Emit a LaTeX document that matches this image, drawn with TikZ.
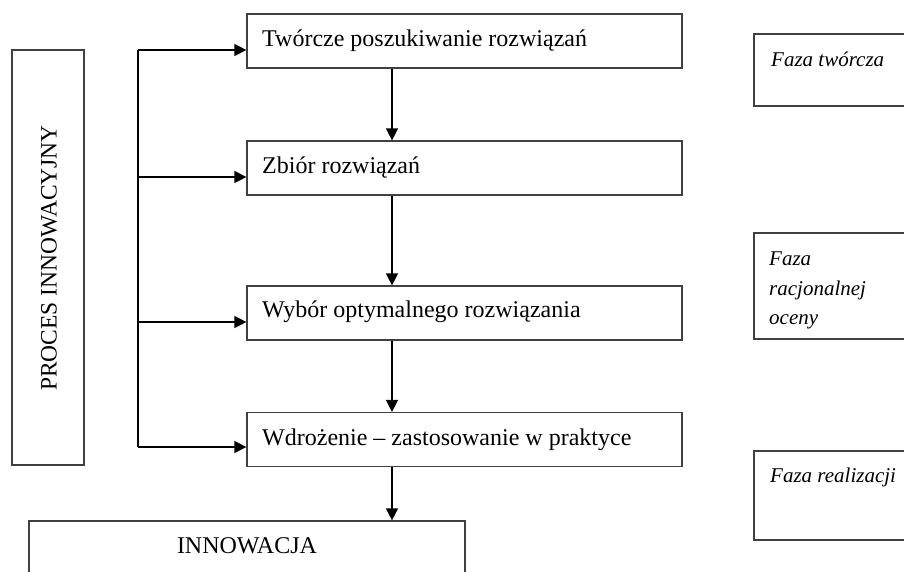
\documentclass[tikz,border=0pt]{standalone}
\usepackage{fontspec}
\setmainfont{Liberation Serif}
\usetikzlibrary{arrows.meta}
\begin{document}
\begin{tikzpicture}[x=1pt,y=-1pt,
  box/.style={draw=black!75, line width=1.2pt, inner sep=0pt},
  arr/.style={-{Triangle[length=12pt,width=12pt]}, line width=1.3pt},
  txt/.style={font=\fontsize{24}{28}\selectfont, inner sep=0pt},
  itxt/.style={font=\fontsize{21}{26}\selectfont\itshape, inner sep=0pt, anchor=base west}]
\useasboundingbox (0,0) rectangle (904,571);
\clip (0,0) rectangle (904,571);
\fill[white] (0,0) rectangle (904,571);
% left box
\node[box, minimum width=72pt, minimum height=415pt] (proc) at (48,257.5) {};
\node[txt, rotate=90, font=\fontsize{23.5}{28}\selectfont] (proctxt) at (49,258) {PROCES INNOWACYJNY};
% main boxes
\node[box, minimum width=435pt, minimum height=54pt] (b1) at (464.5,41) {};
\node[box, minimum width=435pt, minimum height=54pt] (b2) at (464.5,168) {};
\node[box, minimum width=435pt, minimum height=54pt] (b3) at (464.5,313) {};
\node[box, minimum width=435pt, minimum height=54pt] (b4) at (464.5,439.5) {};
\node[txt, anchor=base west] (t1) at (262,46) {Twórcze poszukiwanie rozwiązań};
\node[txt, anchor=base west] (t2) at (262,173) {Zbiór rozwiązań};
\node[txt, anchor=base west] (t3) at (262,317) {Wybór optymalnego rozwiązania};
\node[txt, anchor=base west] (t4) at (262,445) {Wdrożenie – zastosowanie w praktyce};
% innowacja
\node[box, minimum width=436pt, minimum height=80pt] (inn) at (247,561) {};
\node[txt] (inntxt) at (247,546) {INNOWACJA};
% right boxes
\node[box, minimum width=170pt, minimum height=72pt] (f1) at (839,70) {};
\node[box, minimum width=170pt, minimum height=106pt] (f2) at (839,286) {};
\node[box, minimum width=170pt, minimum height=89pt] (f3) at (839,495.5) {};
\node[itxt] (f1t) at (771,66) {Faza twórcza};
\node[itxt] (f2a) at (769,265) {Faza};
\node[itxt] (f2b) at (769,295) {racjonalnej};
\node[itxt] (f2c) at (769,324) {oceny};
\node[itxt] (f3t) at (770,482) {Faza realizacji};
% bus
\coordinate (a1) at (138,50);
\coordinate (a2) at (138,177);
\coordinate (a3) at (138,322);
\coordinate (a4) at (138,447);
\draw[line width=1.3pt] (a1) -- (a4);
\draw[arr] (a1) -- (b1.west |- a1);
\draw[arr] (a2) -- (b2.west |- a2);
\draw[arr] (a3) -- (b3.west |- a3);
\draw[arr] (a4) -- (b4.west |- a4);
% vertical arrows
\coordinate (v) at (392,0);
\draw[arr] (b1.south -| v) -- (b2.north -| v);
\draw[arr] (b2.south -| v) -- (b3.north -| v);
\draw[arr] (b3.south -| v) -- (b4.north -| v);
\draw[arr] (b4.south -| v) -- (inn.north -| v);
\end{tikzpicture}
\end{document}
